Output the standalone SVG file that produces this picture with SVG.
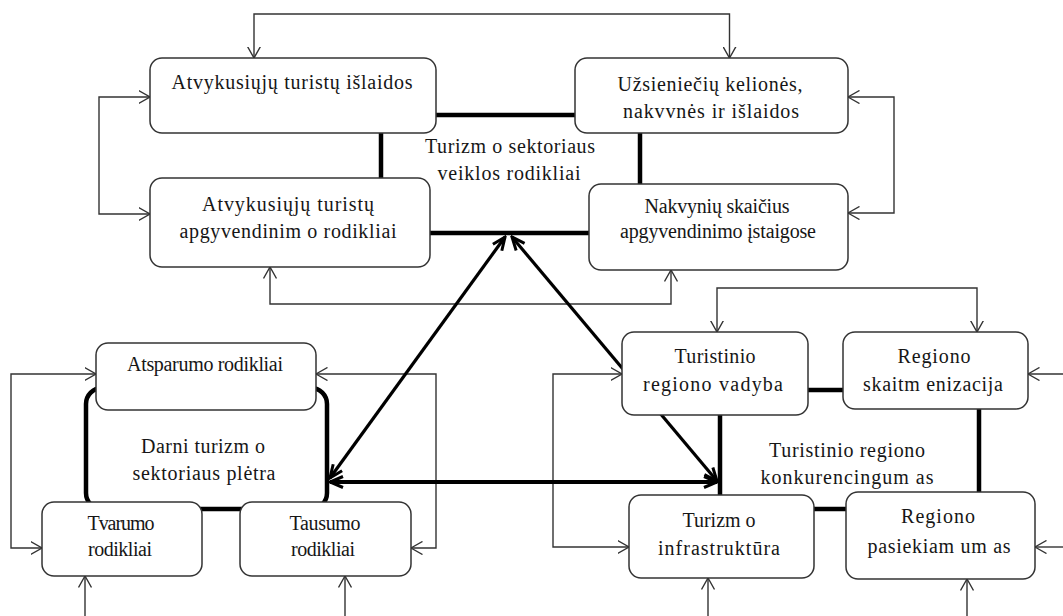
<svg xmlns="http://www.w3.org/2000/svg" width="1063" height="616" viewBox="0 0 1063 616">
<style>
.box{fill:#fff;stroke:#333;stroke-width:1.5}
.t{font-family:"Liberation Serif","Times New Roman",serif;font-size:20px;fill:#161616;text-anchor:middle}
.thin{fill:none;stroke:#333;stroke-width:1.4;marker-end:url(#a)}
.thin2{fill:none;stroke:#333;stroke-width:1.4;marker-start:url(#a);marker-end:url(#a)}
.thick{fill:none;stroke:#000;stroke-width:4.5}
.tarr{fill:none;stroke:#000;stroke-width:3.2;marker-start:url(#b);marker-end:url(#b)}
</style>
<defs>
<marker id="a" viewBox="0 0 12 14" refX="11.5" refY="7" markerWidth="12" markerHeight="14" markerUnits="userSpaceOnUse" orient="auto-start-reverse"><path d="M0,0.5 L11.5,7 L0,13.5" fill="none" stroke="#333" stroke-width="1.4"/></marker>
<marker id="b" viewBox="0 0 16 14" refX="14" refY="7" markerWidth="16" markerHeight="14" markerUnits="userSpaceOnUse" orient="auto-start-reverse"><path d="M1,1.5 L14,7 L1,12.5" fill="none" stroke="#000" stroke-width="3"/></marker>
</defs>
<rect width="1063" height="616" fill="#fff"/>
<g id="darni-frame">
<rect x="86" y="388" width="241" height="121" rx="16" fill="none" stroke="#000" stroke-width="4.5"/>
</g>
<g id="connectors">
<path class="thin2" d="M254,58 V14 H729.5 V58"/>
<path class="thin2" d="M150,97 H99 V214 H150"/>
<path class="thin2" d="M848,97 H894 V213 H848"/>
<path class="thin2" d="M270,267 V304 H671 V270"/>
<path class="thin2" d="M717,332 V288 H977 V332"/>
<path class="thin2" d="M96,374 H11 V548 H42"/>
<path class="thin2" d="M316,374 H436 V548 H411"/>
<path class="thin2" d="M622,374 H553 V547 H629"/>
<path class="thin" d="M1063,374 H1028"/>
<path class="thin" d="M1063,547 H1035"/>
<path class="thin" d="M85,616 V576"/>
<path class="thin" d="M345,616 V576"/>
<path class="thin" d="M708,616 V578"/>
<path class="thin" d="M967,616 V579"/>
<path class="thick" d="M436,115 H575"/>
<path class="thick" d="M381,133 V178"/>
<path class="thick" d="M640,133 V184"/>
<path class="thick" d="M430,233 H589"/>
<path class="thick" d="M808,390 H843"/>
<path class="thick" d="M720,415 V495"/>
<path class="thick" d="M979,409 V492"/>
<path class="thick" d="M814,509 H846"/>
<path class="tarr" d="M330,478 L505,237"/>
<path class="tarr" d="M512,237 L717,481"/>
<path class="tarr" d="M330,482 H717" style="stroke-width:4"/>
</g>
<g id="n1"><rect class="box" x="150" y="58" width="286" height="75" rx="12"/>
<text class="t" x="292" y="89" textLength="241" lengthAdjust="spacing">Atvykusiųjų turistų išlaidos</text></g>
<g id="n2"><rect class="box" x="150" y="178" width="280" height="89" rx="12"/>
<text class="t" x="288" y="211" textLength="172" lengthAdjust="spacing">Atvykusiųjų turistų</text>
<text class="t" x="288" y="238" textLength="217" lengthAdjust="spacing">apgyvendinim o rodikliai</text></g>
<g id="n3"><rect class="box" x="575" y="58" width="273" height="75" rx="12"/>
<text class="t" x="710" y="91" textLength="185" lengthAdjust="spacing">Užsieniečių kelionės,</text>
<text class="t" x="711" y="118" textLength="176" lengthAdjust="spacing">nakvvnės ir išlaidos</text></g>
<g id="n4"><rect class="box" x="589" y="184" width="259" height="86" rx="12"/>
<text class="t" x="717" y="213" textLength="145" lengthAdjust="spacing">Nakvynių skaičius</text>
<text class="t" x="718" y="238" textLength="196" lengthAdjust="spacing">apgyvendinimo įstaigose</text></g>
<g id="label-turizmo">
<text class="t" x="510" y="153" textLength="170" lengthAdjust="spacing">Turizm o sektoriaus</text>
<text class="t" x="509" y="180" textLength="143" lengthAdjust="spacing">veiklos rodikliai</text></g>
<g id="n5"><rect class="box" x="96" y="343" width="220" height="67" rx="12"/>
<text class="t" x="205" y="371" textLength="156" lengthAdjust="spacing">Atsparumo rodikliai</text></g>
<g id="darni-label">
<text class="t" x="203" y="453" textLength="124" lengthAdjust="spacing">Darni turizm o</text>
<text class="t" x="204" y="480" textLength="143" lengthAdjust="spacing">sektoriaus plėtra</text></g>
<g id="n6"><rect class="box" x="42" y="502" width="160" height="74" rx="12"/>
<text class="t" x="121" y="530" textLength="67" lengthAdjust="spacing">Tvarumo</text>
<text class="t" x="120" y="556" textLength="64" lengthAdjust="spacing">rodikliai</text></g>
<g id="n7"><rect class="box" x="240" y="502" width="171" height="74" rx="12"/>
<text class="t" x="325" y="530" textLength="71" lengthAdjust="spacing">Tausumo</text>
<text class="t" x="323" y="556" textLength="64" lengthAdjust="spacing">rodikliai</text></g>
<g id="n8"><rect class="box" x="622" y="332" width="186" height="83" rx="12"/>
<text class="t" x="715" y="363" textLength="81" lengthAdjust="spacing">Turistinio</text>
<text class="t" x="713" y="391" textLength="140" lengthAdjust="spacing">regiono vadyba</text></g>
<g id="n9"><rect class="box" x="843" y="332" width="185" height="77" rx="12"/>
<text class="t" x="934" y="363" textLength="73" lengthAdjust="spacing">Regiono</text>
<text class="t" x="933" y="391" textLength="140" lengthAdjust="spacing">skaitm enizacija</text></g>
<g id="label-konkurencingumas">
<text class="t" x="847" y="457" textLength="156" lengthAdjust="spacing">Turistinio regiono</text>
<text class="t" x="847" y="484" textLength="173" lengthAdjust="spacing">konkurencingum as</text></g>
<g id="n10"><rect class="box" x="629" y="495" width="185" height="83" rx="12"/>
<text class="t" x="719" y="527" textLength="73" lengthAdjust="spacing">Turizm o</text>
<text class="t" x="719" y="555" textLength="122" lengthAdjust="spacing">infrastruktūra</text></g>
<g id="n11"><rect class="box" x="846" y="492" width="189" height="87" rx="12"/>
<text class="t" x="938" y="523" textLength="74" lengthAdjust="spacing">Regiono</text>
<text class="t" x="939" y="553" textLength="143" lengthAdjust="spacing">pasiekiam um as</text></g>
</svg>
